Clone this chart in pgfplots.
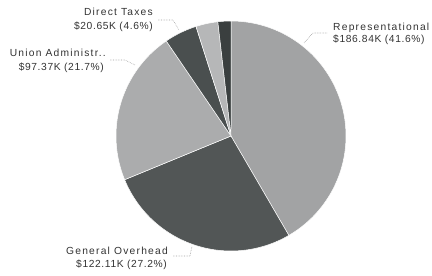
\documentclass[border=0pt]{standalone}
\usepackage{fontspec}
\setmainfont{Liberation Sans}
\newfontfamily\wordfont[LetterSpace=12]{Liberation Sans}
\newfontfamily\numfont[LetterSpace=6]{Liberation Sans}
\usepackage{pgfplots}
\usepackage{pgfplotstable}
\pgfplotsset{compat=1.18}
\definecolor{cRep}{HTML}{A2A3A4}
\definecolor{cGen}{HTML}{525656}
\definecolor{cUni}{HTML}{ABACAD}
\definecolor{cDir}{HTML}{4A4F4F}
\definecolor{cOthA}{HTML}{B6B7B8}
\definecolor{cOthB}{HTML}{3A3F3F}
\definecolor{txt}{HTML}{333333}
\definecolor{lead}{HTML}{A0A0A0}
\tikzset{lbl/.style={txt, inner sep=0pt, font=\fontsize{10.3}{12}\selectfont}}
\pgfplotstableread{
name value
Representational 186.84
GeneralOverhead 122.11
UnionAdministration 97.37
DirectTaxes 20.65
OtherA 13.90
OtherB 8.20
}\piedata
\newcommand\getval[2]{\pgfplotstablegetelem{#1}{value}\of\piedata\pgfmathsetmacro#2{\pgfplotsretval}}
\begin{document}
\begin{tikzpicture}
\getval{0}{\vA}\getval{1}{\vB}\getval{2}{\vC}\getval{3}{\vD}\getval{4}{\vE}\getval{5}{\vF}
\pgfmathsetmacro\tot{\vA+\vB+\vC+\vD+\vE+\vF}
\pgfmathsetmacro\aA{90}
\pgfmathsetmacro\aB{\aA-360*(\vA/\tot)}
\pgfmathsetmacro\aC{\aB-360*(\vB/\tot)}
\pgfmathsetmacro\aD{\aC-360*(\vC/\tot)}
\pgfmathsetmacro\aE{\aD-360*(\vD/\tot)}
\pgfmathsetmacro\aF{\aE-360*(\vE/\tot)}
\pgfmathsetmacro\aG{\aF-360*(\vF/\tot)}
\def\cx{231}\def\cy{140}\def\R{115}
\begin{axis}[
  x=1bp, y=1bp, xmin=0, xmax=432, ymin=0, ymax=276,
  hide axis, clip=false, anchor=origin, at={(0,0)},
]
\addplot[fill=cRep, draw=white, line width=0.5pt, domain=\aB:\aA, samples=90, variable=\t] ({\cx+\R*cos(\t)},{\cy+\R*sin(\t)}) -- (axis cs:\cx,\cy) -- cycle;
\addplot[fill=cGen, draw=white, line width=0.5pt, domain=\aC:\aB, samples=60, variable=\t] ({\cx+\R*cos(\t)},{\cy+\R*sin(\t)}) -- (axis cs:\cx,\cy) -- cycle;
\addplot[fill=cUni, draw=white, line width=0.5pt, domain=\aD:\aC, samples=50, variable=\t] ({\cx+\R*cos(\t)},{\cy+\R*sin(\t)}) -- (axis cs:\cx,\cy) -- cycle;
\addplot[fill=cDir, draw=white, line width=0.5pt, domain=\aE:\aD, samples=15, variable=\t] ({\cx+\R*cos(\t)},{\cy+\R*sin(\t)}) -- (axis cs:\cx,\cy) -- cycle;
\addplot[fill=cOthA, draw=white, line width=0.5pt, domain=\aF:\aE, samples=12, variable=\t] ({\cx+\R*cos(\t)},{\cy+\R*sin(\t)}) -- (axis cs:\cx,\cy) -- cycle;
\addplot[fill=cOthB, draw=white, line width=0.5pt, domain=\aG:\aF, samples=10, variable=\t] ({\cx+\R*cos(\t)},{\cy+\R*sin(\t)}) -- (axis cs:\cx,\cy) -- cycle;
% leader lines
\addplot[lead, densely dotted, line width=0.6pt] coordinates {(304,233) (313,243) (328,243)};
\addplot[lead, densely dotted, line width=0.6pt] coordinates {(158,256) (173,256) (179,246)};
\addplot[lead, densely dotted, line width=0.6pt] coordinates {(110,216) (125,216) (135,211)};
\addplot[lead, densely dotted, line width=0.6pt] coordinates {(173,20) (190,20) (192,30)};
% labels
\node[lbl, anchor=base west] at (axis cs:333,245) {\wordfont Representational};
\node[lbl, anchor=base west] at (axis cs:333,233) {\numfont \$186.84K (41.6\%)};
\node[lbl, anchor=base east] at (axis cs:153,260) {\wordfont Direct Taxes};
\node[lbl, anchor=base east] at (axis cs:153,246) {\numfont \$20.65K (4.6\%)};
\node[lbl, anchor=base east] at (axis cs:106,219) {\wordfont Union Administr..};
\node[lbl, anchor=base east] at (axis cs:104,205) {\numfont \$97.37K (21.7\%)};
\node[lbl, anchor=base east] at (axis cs:168,21) {\wordfont General Overhead};
\node[lbl, anchor=base east] at (axis cs:167,8) {\numfont \$122.11K (27.2\%)};
\end{axis}
\pgfresetboundingbox
\path[use as bounding box] (0,0) rectangle (432bp,276bp);
\end{tikzpicture}
\end{document}
